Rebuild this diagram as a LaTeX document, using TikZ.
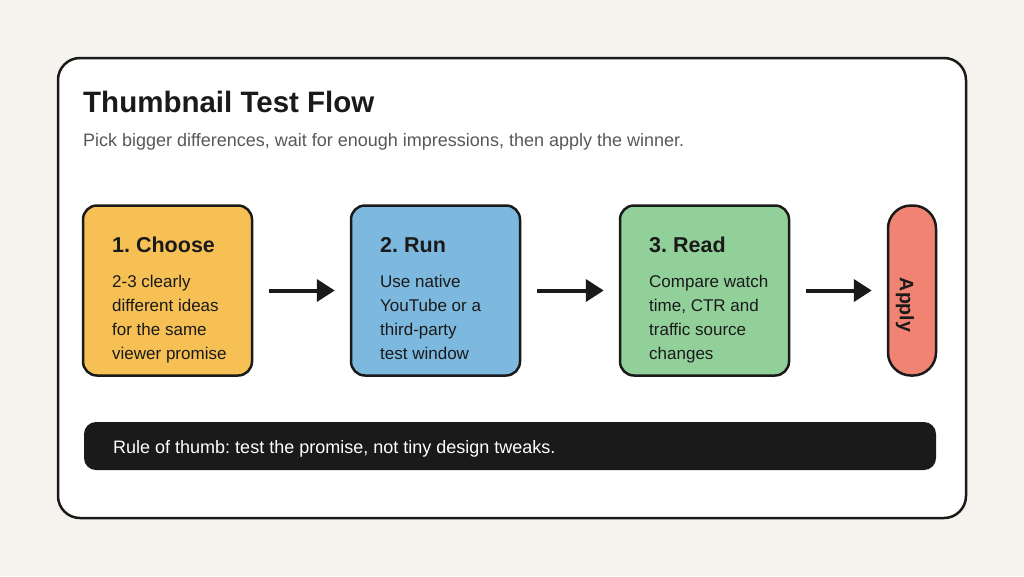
\documentclass[tikz,border=0pt]{standalone}
\usepackage{fontspec}
\setmainfont{Liberation Sans}
\usetikzlibrary{arrows.meta}
\definecolor{pagebg}{RGB}{246,243,238}
\definecolor{inkdark}{RGB}{26,26,26}
\definecolor{subgray}{RGB}{88,88,88}
\definecolor{choosefill}{RGB}{246,192,84}
\definecolor{runfill}{RGB}{125,184,222}
\definecolor{readfill}{RGB}{146,208,154}
\definecolor{applyfill}{RGB}{240,131,114}
\frenchspacing

\tikzset{
  stepbox/.style={draw=inkdark, line width=2.5pt, rounded corners=14pt, minimum width=169pt, minimum height=170pt, inner sep=0pt},
  steptitle/.style={anchor=base west, inner sep=0pt, font=\fontsize{21.5}{24}\selectfont\bfseries, text=inkdark},
  stepline/.style={anchor=base west, inner sep=0pt, font=\fontsize{17}{20}\selectfont, text=inkdark},
  flowarrow/.style={draw=inkdark, line width=4pt, -{Triangle[length=18pt,width=22pt]}, shorten <=16pt, shorten >=15pt},
}

\begin{document}
\begin{tikzpicture}[x=1pt,y=-1pt]

% ============ page and card ============
\fill[pagebg] (0,0) rectangle (1024,576);
\node[draw=inkdark, line width=2.5pt, fill=white, rounded corners=22pt, minimum width=908pt, minimum height=460pt] (card) at (512,288) {};
\node[anchor=base west, inner sep=0pt, font=\fontsize{29.5}{32}\selectfont\bfseries, text=inkdark] (title) at (83,112) {Thumbnail Test Flow};
\node[anchor=base west, inner sep=0pt, font=\fontsize{18}{20}\selectfont, text=subgray] (subtitle) at (83,146) {Pick bigger differences, wait for enough impressions, then apply the winner.};

% ============ steps ============
\foreach \x/\name/\col/\head/\la/\lb/\lc/\ld in {
  83/choose/choosefill/{1. Choose}/{2-3 clearly}/{different ideas}/{for the same}/{viewer promise},
  351/run/runfill/{2. Run}/{Use native}/{YouTube or a}/{third-party}/{test window},
  620/read/readfill/{3. Read}/{Compare watch}/{time, CTR and}/{traffic source}/{changes}}{
  \node[stepbox, fill=\col] (\name) at (\x+84.5,290.5) {};
  \node[steptitle] (\name-head) at (\x+29,252) {\head};
  \node[stepline] (\name-l1) at (\x+29,287) {\la};
  \node[stepline] (\name-l2) at (\x+29,311) {\lb};
  \node[stepline] (\name-l3) at (\x+29,335) {\lc};
  \node[stepline] (\name-l4) at (\x+29,359) {\ld};
}
\node[draw=inkdark, line width=2.5pt, fill=applyfill, rounded corners=23pt, minimum width=48pt, minimum height=170pt, inner sep=0pt] (apply) at (912,290.5) {};
\node[rotate=-90, inner sep=0pt, font=\fontsize{19.5}{22}\selectfont\bfseries, text=inkdark] (apply-text) at (905,305) {Apply};

% ============ arrows ============
\draw[flowarrow] (choose.east) -- (run.west);
\draw[flowarrow] (run.east) -- (read.west);
\draw[flowarrow] (read.east) -- (apply.west);

% ============ rule of thumb ============
\node[fill=inkdark, rounded corners=12pt, minimum width=852pt, minimum height=48pt, inner sep=0pt] (rule) at (510,446) {};
\node[anchor=base west, inner sep=0pt, font=\fontsize{18}{20}\selectfont, text=white] (rule-text) at (113,453) {Rule of thumb: test the promise, not tiny design tweaks.};

\end{tikzpicture}
\end{document}
